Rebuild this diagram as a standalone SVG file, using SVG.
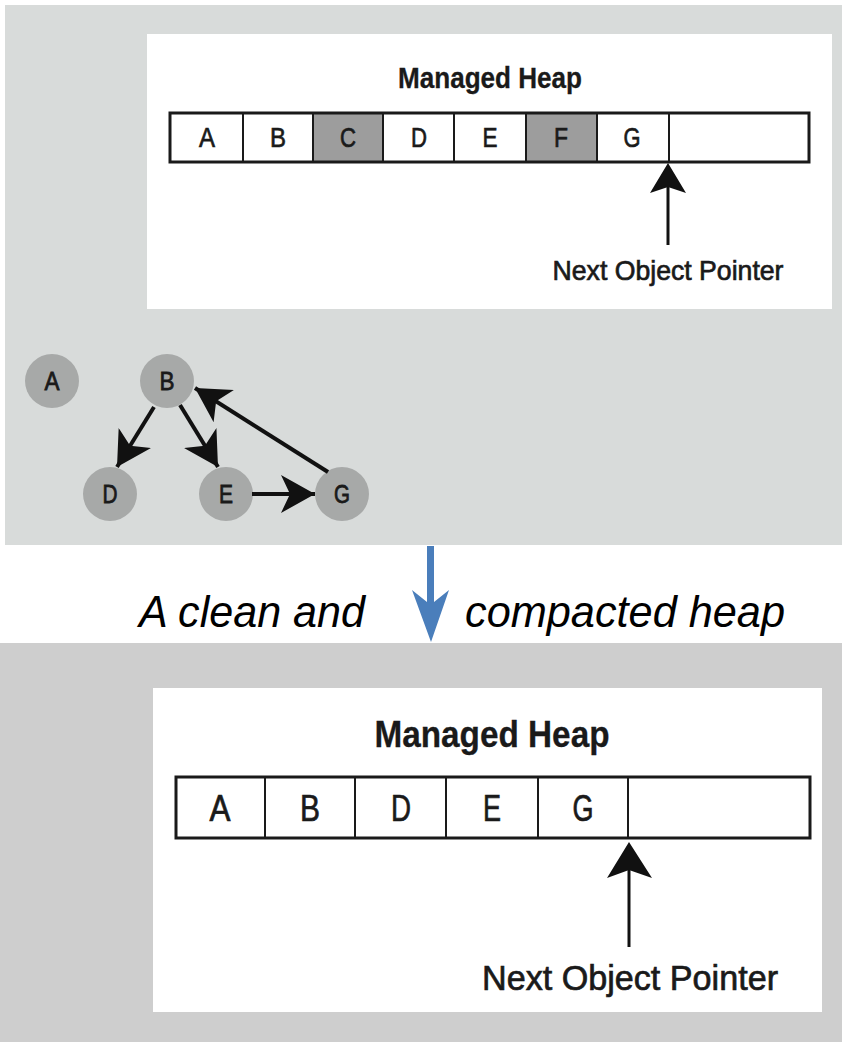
<svg xmlns="http://www.w3.org/2000/svg" width="842" height="1042" viewBox="0 0 842 1042">
<defs>
<style>
.panel1{fill:#d8dbda}
.panel2{fill:#cecece}
.box{fill:#ffffff}
.cell{fill:#ffffff;stroke:#1a1a1a;stroke-width:2}
.cellg{fill:#9d9d9d;stroke:#1a1a1a;stroke-width:2}
.outer{fill:none;stroke:#1a1a1a;stroke-width:3}
.lbl{font-family:"Liberation Sans",Arial,sans-serif;fill:#1a1a1a;stroke:#1a1a1a;stroke-width:0.7;text-anchor:middle}
.title{font-weight:bold;stroke-width:0.3}
.node{fill:#a7a9a8}
.nlbl{font-family:"Liberation Sans",Arial,sans-serif;font-size:26px;fill:#1a1a1a;stroke:#1a1a1a;stroke-width:0.8;text-anchor:middle}
.edge{stroke:#111;stroke-width:4;fill:none}
.ptr{stroke:#111;stroke-width:3;fill:none}
.cap{font-family:"Liberation Sans",Arial,sans-serif;font-style:italic;font-size:45px;fill:#000}
</style>
<marker id="ah" markerUnits="userSpaceOnUse" viewBox="0 0 34 38" refX="34" refY="19" markerWidth="34" markerHeight="38" orient="auto">
<path d="M0,0 L34,19 L0,38 L9,19 Z" fill="#111"/>
</marker>
</defs>
<rect x="0" y="0" width="842" height="1042" fill="#ffffff"/>
<rect class="panel1" x="5" y="5" width="837" height="540"/>
<rect class="panel2" x="0" y="643" width="842" height="399"/>

<g id="heap1">
<rect class="box" x="147" y="34" width="685" height="275"/>
<text class="lbl title" x="490" y="88" font-size="29" textLength="184" lengthAdjust="spacingAndGlyphs">Managed Heap</text>
<rect class="cell" x="170" y="113" width="73" height="49"/>
<rect class="cell" x="243" y="113" width="70" height="49"/>
<rect class="cellg" x="313" y="113" width="70" height="49"/>
<rect class="cell" x="383" y="113" width="71" height="49"/>
<rect class="cell" x="454" y="113" width="72" height="49"/>
<rect class="cellg" x="526" y="113" width="71" height="49"/>
<rect class="cell" x="597" y="113" width="72" height="49"/>
<rect class="cell" x="669" y="113" width="140" height="49"/>
<rect class="outer" x="170" y="113" width="639" height="49"/>
<text class="lbl" x="207" y="147" font-size="28" textLength="16" lengthAdjust="spacingAndGlyphs">A</text>
<text class="lbl" x="278" y="147" font-size="28" textLength="16" lengthAdjust="spacingAndGlyphs">B</text>
<text class="lbl" x="348" y="147" font-size="28" textLength="16" lengthAdjust="spacingAndGlyphs">C</text>
<text class="lbl" x="419" y="147" font-size="28" textLength="16" lengthAdjust="spacingAndGlyphs">D</text>
<text class="lbl" x="490" y="147" font-size="28" textLength="15" lengthAdjust="spacingAndGlyphs">E</text>
<text class="lbl" x="561" y="147" font-size="28" textLength="14" lengthAdjust="spacingAndGlyphs">F</text>
<text class="lbl" x="632" y="147" font-size="28" textLength="17" lengthAdjust="spacingAndGlyphs">G</text>
<line class="ptr" x1="668" y1="245" x2="668" y2="180"/>
<path d="M668,163 L686,193 L668,187 L650,193 Z" fill="#111"/>
<text class="lbl" x="668" y="280" font-size="28" textLength="231" lengthAdjust="spacingAndGlyphs">Next Object Pointer</text>
</g>

<g id="node-A"><circle class="node" cx="52" cy="381" r="27"/><text class="nlbl" x="52" y="390" textLength="15" lengthAdjust="spacingAndGlyphs">A</text></g>
<g id="node-B"><circle class="node" cx="167" cy="381" r="27"/><text class="nlbl" x="167" y="390" textLength="15" lengthAdjust="spacingAndGlyphs">B</text></g>
<g id="node-D"><circle class="node" cx="110" cy="494" r="27"/><text class="nlbl" x="110" y="503" textLength="15" lengthAdjust="spacingAndGlyphs">D</text></g>
<g id="node-E"><circle class="node" cx="226" cy="494" r="27"/><text class="nlbl" x="226" y="503" textLength="14" lengthAdjust="spacingAndGlyphs">E</text></g>
<g id="node-G"><circle class="node" cx="342" cy="494" r="27"/><text class="nlbl" x="342" y="503" textLength="16" lengthAdjust="spacingAndGlyphs">G</text></g>

<g id="connectors">
<line class="edge" x1="154" y1="407" x2="117" y2="467" marker-end="url(#ah)"/>
<line class="edge" x1="180" y1="405" x2="218" y2="467" marker-end="url(#ah)"/>
<line class="edge" x1="252" y1="494" x2="315" y2="494" marker-end="url(#ah)"/>
<line class="edge" x1="328" y1="472" x2="195" y2="388" marker-end="url(#ah)"/>
<path d="M427,546 L434,546 L434,602 L449,590 L431,642 L412,590 L427,602 Z" fill="#4a7ebb"/>
</g>

<g id="caption">
<text class="cap" x="139" y="627" textLength="226" lengthAdjust="spacingAndGlyphs">A clean and</text>
<text class="cap" x="465" y="627" textLength="320" lengthAdjust="spacingAndGlyphs">compacted heap</text>
</g>

<g id="heap2">
<rect class="box" x="153" y="688" width="669" height="324"/>
<text class="lbl title" x="492" y="747" font-size="36" textLength="235" lengthAdjust="spacingAndGlyphs">Managed Heap</text>
<rect class="cell" x="176" y="777" width="89" height="61"/>
<rect class="cell" x="265" y="777" width="90" height="61"/>
<rect class="cell" x="355" y="777" width="91" height="61"/>
<rect class="cell" x="446" y="777" width="92" height="61"/>
<rect class="cell" x="538" y="777" width="90" height="61"/>
<rect class="cell" x="628" y="777" width="182" height="61"/>
<rect class="outer" x="176" y="777" width="634" height="61"/>
<text class="lbl" x="220" y="821" font-size="36" textLength="21" lengthAdjust="spacingAndGlyphs">A</text>
<text class="lbl" x="310" y="821" font-size="36" textLength="20" lengthAdjust="spacingAndGlyphs">B</text>
<text class="lbl" x="401" y="821" font-size="36" textLength="20" lengthAdjust="spacingAndGlyphs">D</text>
<text class="lbl" x="492" y="821" font-size="36" textLength="18" lengthAdjust="spacingAndGlyphs">E</text>
<text class="lbl" x="583" y="821" font-size="36" textLength="21" lengthAdjust="spacingAndGlyphs">G</text>
<line class="ptr" x1="629" y1="947" x2="629" y2="860"/>
<path d="M629,842 L652,878 L629,870 L607,878 Z" fill="#111"/>
<text class="lbl" x="630" y="990" font-size="35" textLength="296" lengthAdjust="spacingAndGlyphs">Next Object Pointer</text>
</g>
</svg>
